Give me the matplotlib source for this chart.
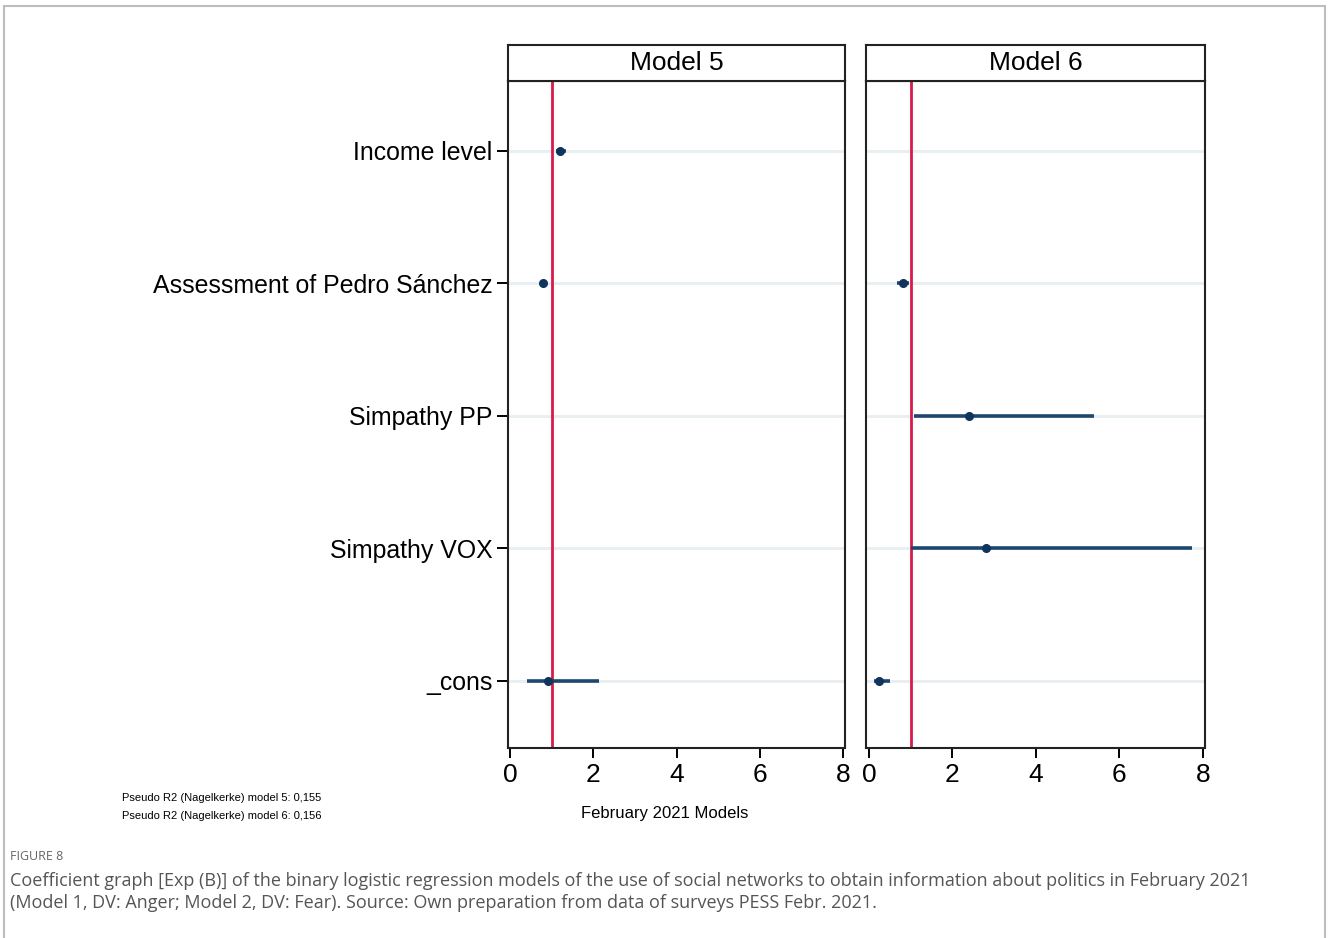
import matplotlib
matplotlib.use('Agg')
import matplotlib.pyplot as plt
from matplotlib.patches import Rectangle

plt.rcParams['font.family'] = ['Liberation Sans', 'DejaVu Sans']

# variables, top to bottom
variables = ['Income level', 'Assessment of Pedro Sánchez', 'Simpathy PP',
             'Simpathy VOX', '_cons']

# Exp(B) and confidence limits; None = variable not in model
m5_est = [1.20, 0.78, None, None, 0.92]
m5_lo = [1.10, 0.74, None, None, 0.40]
m5_hi = [1.35, 0.82, None, None, 2.14]

m6_est = [None, 0.82, 2.40, 2.80, 0.25]
m6_lo = [None, 0.68, 1.08, 1.00, 0.12]
m6_hi = [None, 0.95, 5.40, 7.75, 0.50]

models = ['Model 5', 'Model 6']
xticks = [0, 2, 4, 6, 8]

W, H = 1328, 938
fig = plt.figure(figsize=(W / 100, H / 100), dpi=100)

# outer frame
fig.patches.append(Rectangle((4 / W, -0.01), 1321 / W, 1.0 - 6 / H + 0.01,
                             transform=fig.transFigure, fill=False,
                             edgecolor='#bdbdbd', linewidth=1.5))

navy = '#1c4770'
red = '#d81b4a'

panels = [(508, 845, -0.05, 8.05, m5_est, m5_lo, m5_hi),
          (866, 1205, -0.07, 8.05, m6_est, m6_lo, m6_hi)]

top, bot = 81, 748
for i, (x0, x1, xmin, xmax, est, lo, hi) in enumerate(panels):
    ax = fig.add_axes([x0 / W, 1 - bot / H, (x1 - x0) / W, (bot - top) / H])
    ys = list(range(1, len(variables) + 1))
    for y in ys:
        ax.axhline(y, color='#e8eef1', linewidth=2, zorder=0)
    ax.axvline(1, color=red, linewidth=2, zorder=2)
    for y, e, l, h in zip(ys, est, lo, hi):
        if e is None:
            continue
        ax.plot([l, h], [y, y], color=navy, linewidth=2.6, solid_capstyle='butt', zorder=3)
        ax.plot(e, y, 'o', color='#0f355c', markersize=5.5, zorder=4)
    ax.set_xlim(xmin, xmax)
    ax.set_ylim(5.506, 0.472)
    ax.set_xticks(xticks)
    ax.set_xticklabels([str(t) for t in xticks], fontsize=19)
    ax.tick_params(axis='x', direction='out', length=7, width=1.4, pad=4)
    if i == 0:
        ax.set_yticks(ys)
        ax.set_yticklabels(variables, fontsize=17.9)
        ax.tick_params(axis='y', direction='out', length=8, width=1.4, pad=3)
    else:
        ax.set_yticks([])
    for s in ax.spines.values():
        s.set_linewidth(1.5)
        s.set_color('#222222')

    # strip header
    hx = fig.add_axes([x0 / W, 1 - top / H, (x1 - x0) / W, 36 / H])
    hx.set_xticks([])
    hx.set_yticks([])
    for s in hx.spines.values():
        s.set_linewidth(1.5)
        s.set_color('#222222')
    hx.text(0.5, 0.5, models[i], ha='center', va='center', fontsize=19,
            transform=hx.transAxes)

fig.text(665 / W, 1 - 813 / H, 'February 2021 Models', ha='center', va='center',
         fontsize=12)
fig.text(122 / W, 1 - 798 / H, 'Pseudo R2 (Nagelkerke) model 5: 0,155',
         ha='left', va='center', fontsize=8)
fig.text(122 / W, 1 - 816 / H, 'Pseudo R2 (Nagelkerke) model 6: 0,156',
         ha='left', va='center', fontsize=8)

cap_font = ['Open Sans', 'DejaVu Sans']
fig.text(10 / W, 1 - 856 / H, 'FIGURE 8', ha='left', va='center', fontsize=9,
         color='#666666', family=cap_font)
fig.text(10 / W, 1 - 881 / H,
         'Coefficient graph [Exp (B)] of the binary logistic regression models of the use '
         'of social networks to obtain information about politics in February 2021',
         ha='left', va='center', fontsize=13, color='#555555', family=cap_font)
fig.text(10 / W, 1 - 903 / H,
         '(Model 1, DV: Anger; Model 2, DV: Fear). Source: Own preparation from data of '
         'surveys PESS Febr. 2021.',
         ha='left', va='center', fontsize=13, color='#555555', family=cap_font)

fig.savefig('out.png', dpi=100)
